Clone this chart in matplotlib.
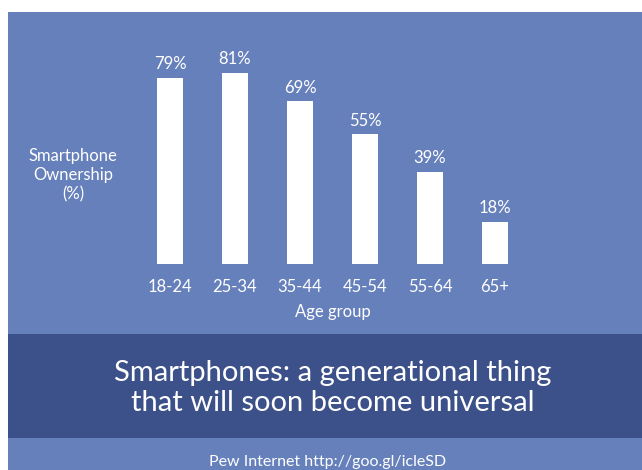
import matplotlib
matplotlib.use('Agg')
from matplotlib import pyplot as plt
from matplotlib.patches import Rectangle

# data
age_groups = ['18-24', '25-34', '35-44', '45-54', '55-64', '65+']
ownership = [79, 81, 69, 55, 39, 18]
title_lines = 'Smartphones: a generational thing\nthat will soon become universal'
source = 'Pew Internet http://goo.gl/icleSD'

W, H = 642, 470
light = '#6680bb'
dark = '#3c5189'
plt.rcParams['font.family'] = ['Lato', 'DejaVu Sans']

def fx(x):
    return x / W
def fy(y):
    return 1 - y / H

fig = plt.figure(figsize=(W / 100, H / 100), dpi=100)
fig.patch.set_facecolor('white')
# slide background and dark caption band
fig.patches.append(Rectangle((fx(8), 0), 1 - fx(8), fy(12), transform=fig.transFigure,
                             facecolor=light, edgecolor='none', zorder=-2))
fig.patches.append(Rectangle((fx(8), fy(438)), 1 - fx(8), fy(334) - fy(438),
                             transform=fig.transFigure, facecolor=dark,
                             edgecolor='none', zorder=-1))

# axes: bars 65 px apart, base at y=264, 100% = 236 px
ax = fig.add_axes([fx(137.5), fy(264), 390 / W, 236 / H])
ax.set_zorder(2)
ax.patch.set_visible(False)
bars = ax.bar(range(len(age_groups)), ownership, width=0.4, color='white')
ax.bar_label(bars, labels=[f'{v}%' for v in ownership], padding=4,
             color='white', fontsize=12)
ax.set_xlim(-0.5, 5.5)
ax.set_ylim(0, 100)
ax.set_xticks(range(len(age_groups)))
ax.set_xticklabels(age_groups)
ax.tick_params(axis='x', length=0, pad=11, colors='white', labelsize=12)
ax.set_yticks([])
for s in ax.spines.values():
    s.set_visible(False)
ax.set_xlabel('Age group', color='white', fontsize=12, labelpad=6)

fig.text(fx(73), fy(175), 'Smartphone\nOwnership\n(%)', color='white', fontsize=12,
         ha='center', va='center', linespacing=1.25)
fig.text(fx(333), fy(388), title_lines, color='white', fontsize=21,
         ha='center', va='center', linespacing=1.15)
fig.text(fx(328), fy(462), source, color='white', fontsize=11.5,
         ha='center', va='center')

fig.savefig('out.png', dpi=100, facecolor=fig.get_facecolor())
